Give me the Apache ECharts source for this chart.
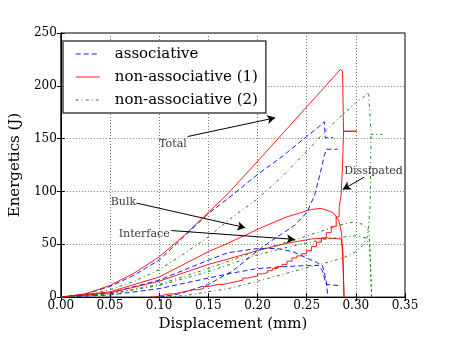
<!DOCTYPE html>
<html>
<head>
<meta charset="utf-8">
<script src="https://cdn.jsdelivr.net/npm/echarts@6/dist/echarts.min.js"></script>
<style>
  html, body { margin: 0; padding: 0; background: #fff; }
  #chart { width: 450px; height: 337px; }
</style>
</head>
<body>
<div id="chart"></div>
<script>
// displacement (mm), energy (J) pairs
const blueTotal = [[0,0],[0.025,3],[0.05,10],[0.075,21],[0.1,35],[0.125,57],[0.15,79],[0.175,97],[0.2,116],[0.225,133],[0.25,152],[0.262,161],[0.268,166],[0.2688,151],[0.277,151]];
const blueDissipated = [[0.1,0],[0.12,3],[0.15,12],[0.175,25],[0.2045,47],[0.22,57],[0.238,68],[0.25,80],[0.258,96],[0.264,118],[0.268,134],[0.27,140],[0.2815,140]];
const blueBulk = [[0,0],[0.05,4],[0.1,16],[0.15,35],[0.17,42],[0.2,46],[0.22,46],[0.236,43],[0.25,37],[0.26,33],[0.266,30],[0.27,15],[0.2716,0]];
const blueInterface = [[0,0],[0.05,2],[0.1,8],[0.15,18],[0.17,22],[0.2,27],[0.23,29],[0.255,30],[0.262,30],[0.266,25],[0.27,12],[0.282,11]];

const redTotal = [[0,0],[0.025,3],[0.05,11],[0.075,23],[0.1,38],[0.125,58],[0.15,80],[0.17,98],[0.2045,133],[0.25,180],[0.28,211],[0.284,215.5],[0.2855,216],[0.2865,214],[0.2875,157],[0.301,157]];
const redDissipated = [[0.09,0],[0.095,1],[0.1,2],[0.105,3],[0.11,3],[0.115,4],[0.12,5],[0.125,6],[0.13,7],[0.135,7],[0.14,8],[0.145,10],[0.15,11],[0.155,12],[0.16,12],[0.165,13],[0.17,14],[0.175,15],[0.18,16],[0.185,18],[0.19,19],[0.195,20],[0.2,22],[0.205,23],[0.21,25],[0.215,27],[0.22,29],[0.225,31],[0.23,34],[0.235,37],[0.24,39],[0.245,41],[0.25,44],[0.255,48],[0.26,52],[0.265,56],[0.27,61],[0.275,67],[0.28,76],[0.283,85],[0.285,96],[0.2865,125],[0.2875,157],[0.301,157]];
const redBulk = [[0,0],[0.05,5],[0.1,19],[0.15,43],[0.17,51],[0.2045,66],[0.23,76],[0.255,83],[0.265,84],[0.277,80],[0.283,72],[0.2855,60],[0.287,30],[0.288,0]];
const redInterface = [[0,0],[0.05,4],[0.1,15],[0.15,31],[0.17,36],[0.2,44],[0.23,51],[0.255,55],[0.27,56],[0.285,55],[0.2868,45],[0.288,0]];

const greenTotal = [[0,0],[0.025,2],[0.05,7],[0.075,15],[0.1,26],[0.125,41],[0.15,57],[0.175,76],[0.2,93],[0.225,114],[0.25,138],[0.27,158],[0.288,174],[0.3,184],[0.31,191],[0.313,194],[0.3145,193],[0.3155,154],[0.327,154]];
const greenDissipated = [[0.11,0],[0.13,2],[0.15,5],[0.17,8],[0.2,15],[0.235,24],[0.26,30],[0.287,37],[0.3,43],[0.307,49],[0.312,58],[0.3145,85],[0.3155,154]];
const greenBulk = [[0,0],[0.05,3],[0.1,12],[0.15,27],[0.2,44],[0.238,54],[0.26,61],[0.287,69],[0.297,71],[0.307,69],[0.3135,62],[0.315,30],[0.316,0]];
const greenInterface = [[0,0],[0.05,3],[0.1,11],[0.15,24],[0.2,40],[0.238,49],[0.27,55],[0.288,57],[0.3,58],[0.31,56],[0.314,50],[0.316,0]];

const legendNames = ['associative', 'non-associative (1)', 'non-associative (2)'];

// annotation text and arrows, in data coords
const notes = [
  { name: 'Total', value: [0.114, 145] },
  { name: 'Bulk', value: [0.0637, 89.5] },
  { name: 'Interface', value: [0.0848, 60] },
  { name: 'Dissipated', value: [0.318, 119.5] }
];
const arrows = [
  [[0.129, 152], [0.218, 169.7]],
  [[0.077, 89], [0.1877, 65.7]],
  [[0.1123, 63], [0.238, 54.6]],
  [[0.3085, 113.5], [0.2867, 101.9]]
];

const serif = 'DejaVu Serif';
const styles = [
  { color: '#0000ff', type: [5, 3] },
  { color: '#ff0000', type: 'solid' },
  { color: '#008000', type: [3, 3, 1, 3] }
];

function curve(name, data, s, step) {
  return {
    name: name,
    type: 'line',
    data: data,
    symbol: 'none',
    step: step || false,
    lineStyle: { color: s.color, width: 1, type: s.type, opacity: 0.9 },
    itemStyle: { color: s.color },
    z: 3
  };
}

const series = [
  curve(legendNames[0], blueTotal, styles[0]),
  curve(legendNames[0], blueDissipated, styles[0]),
  curve(legendNames[0], blueBulk, styles[0]),
  curve(legendNames[0], blueInterface, styles[0]),
  curve(legendNames[1], redTotal, styles[1]),
  curve(legendNames[1], redDissipated, styles[1], 'end'),
  curve(legendNames[1], redBulk, styles[1]),
  curve(legendNames[1], redInterface, styles[1]),
  curve(legendNames[2], greenTotal, styles[2]),
  curve(legendNames[2], greenDissipated, styles[2]),
  curve(legendNames[2], greenBulk, styles[2]),
  curve(legendNames[2], greenInterface, styles[2]),
  {
    name: 'notes',
    type: 'scatter',
    data: notes,
    symbolSize: 1,
    itemStyle: { color: 'rgba(0,0,0,0)' },
    label: {
      show: true,
      position: 'inside',
      formatter: '{b}',
      color: '#000',
      fontFamily: serif,
      fontSize: 11
    },
    markLine: {
      silent: true,
      symbol: ['none', 'arrow'],
      symbolSize: [7, 8],
      label: { show: false },
      lineStyle: { color: '#000', width: 1, type: 'solid' },
      data: arrows.map(a => [{ coord: a[0] }, { coord: a[1] }])
    },
    z: 5
  }
];

const chart = echarts.init(document.getElementById('chart'));
chart.setOption({
  animation: false,
  backgroundColor: '#fff',
  grid: { left: 57, right: 45, top: 33, bottom: 34, show: true, borderColor: '#000', borderWidth: 1 },
  legend: {
    data: legendNames.map((n, i) => ({
      name: n,
      itemStyle: { opacity: 0 },
      lineStyle: { color: styles[i].color, type: styles[i].type, width: 1.5, opacity: 0.6 }
    })),
    orient: 'vertical',
    left: 63,
    top: 41,
    padding: [4, 8, 4, 12],
    itemGap: 5,
    itemWidth: 24,
    itemHeight: 14,
    backgroundColor: '#fff',
    borderColor: '#444',
    borderWidth: 1.5,
    textStyle: { fontFamily: serif, fontSize: 15, color: '#000', lineHeight: 18, padding: [0, 0, 0, 10] }
  },
  xAxis: [
    {
      type: 'value',
      min: 0,
      max: 0.35,
      interval: 0.05,
      name: 'Displacement (mm)',
      nameLocation: 'middle',
      nameGap: 15,
      nameTextStyle: { fontFamily: serif, fontSize: 15, color: '#000' },
      axisLine: { lineStyle: { color: '#000' } },
      axisTick: { inside: true, length: 4, lineStyle: { color: '#000' } },
      axisLabel: { fontFamily: serif, fontSize: 12, color: '#000', margin: 3, formatter: v => v.toFixed(2) },
      splitLine: { show: true, lineStyle: { color: '#777', type: [1, 2], width: 1 } }
    },
    {
      type: 'value',
      position: 'top',
      min: 0,
      max: 0.35,
      interval: 0.05,
      axisLine: { lineStyle: { color: '#000' } },
      axisTick: { inside: true, length: 4, lineStyle: { color: '#000' } },
      axisLabel: { show: false },
      splitLine: { show: false }
    }
  ],
  yAxis: [
    {
      type: 'value',
      min: 0,
      max: 250,
      interval: 50,
      name: 'Energetics (J)',
      nameLocation: 'middle',
      nameGap: 31,
      nameTextStyle: { fontFamily: serif, fontSize: 15, color: '#000' },
      axisLine: { show: true, lineStyle: { color: '#000' } },
      axisTick: { show: true, inside: true, length: 4, lineStyle: { color: '#000' } },
      axisLabel: { fontFamily: serif, fontSize: 12, color: '#000', margin: 4 },
      splitLine: { show: true, lineStyle: { color: '#777', type: [1, 2], width: 1 } }
    },
    {
      type: 'value',
      position: 'right',
      min: 0,
      max: 250,
      interval: 50,
      axisLine: { show: true, lineStyle: { color: '#000' } },
      axisTick: { show: true, inside: true, length: 4, lineStyle: { color: '#000' } },
      axisLabel: { show: false },
      splitLine: { show: false }
    }
  ],
  series: series
});
</script>
</body>
</html>
